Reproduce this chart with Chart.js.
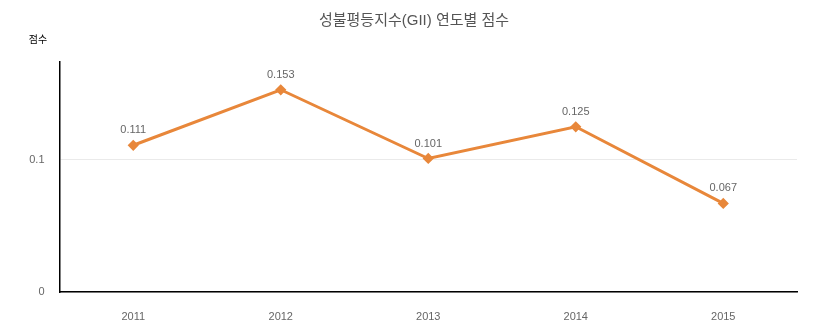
<!DOCTYPE html>
<html>
<head>
<meta charset="utf-8">
<script src="https://cdn.jsdelivr.net/npm/chart.js@4"></script>
<style>
  body { margin: 0; background: #fff; }
  #wrap { width: 820px; height: 328px; }
</style>
</head>
<body>
<div id="wrap"><canvas id="giiChart" width="820" height="328"></canvas></div>
<script>
const years = ['2011', '2012', '2013', '2014', '2015'];
const scores = [0.111, 0.153, 0.101, 0.125, 0.067];
const yTicks = [0, 0.1];

const chartTitle = '성불평등지수(GII) 연도별 점수';
const yLabel = '점수';
const fontFamily = "'Liberation Sans', 'Noto Sans CJK KR', sans-serif";

// title, unit label and point values
const textPlugin = {
    id: 'textPlugin',
    afterDatasetsDraw(chart) {
        const ctx = chart.ctx;
        ctx.save();
        ctx.textAlign = 'center';
        ctx.textBaseline = 'middle';
        ctx.fillStyle = '#555';
        ctx.font = '15px ' + fontFamily;
        ctx.fillText(chartTitle, 414, 21);
        ctx.fillStyle = '#000';
        ctx.font = '10px ' + fontFamily;
        ctx.fillText(yLabel, 38, 40);

        ctx.fillStyle = '#666';
        ctx.font = '11px ' + fontFamily;
        const meta = chart.getDatasetMeta(0);
        meta.data.forEach((pt, i) => {
            ctx.fillText(scores[i].toFixed(3), pt.x, pt.y - 15);
        });
        ctx.restore();
    }
};

const ctx = document.getElementById('giiChart').getContext('2d');
new Chart(ctx, {
    type: 'line',
    data: {
        labels: years,
        datasets: [{
            data: scores,
            borderColor: '#E8873A',
            backgroundColor: '#E8873A',
            borderWidth: 3,
            pointStyle: 'rectRot',
            pointRadius: 3.5,
            pointHoverRadius: 3.5,
            tension: 0
        }]
    },
    options: {
        responsive: false,
        animation: false,
        layout: { padding: { top: 62, right: 23, left: 0, bottom: 0 } },
        plugins: {
            legend: { display: false },
            title: { display: false },
            tooltip: { enabled: false }
        },
        scales: {
            x: {
                offset: true,
                grid: { display: false, drawTicks: false },
                border: { color: '#000', width: 1.5 },
                ticks: { color: '#666', font: { size: 11, family: fontFamily }, padding: 18 },
                afterFit(scale) { scale.height = 36; }
            },
            y: {
                min: 0,
                max: 0.174,
                grid: { color: '#eaeaea', drawTicks: false },
                border: { color: '#000', width: 1.5 },
                ticks: { color: '#666', font: { size: 11, family: fontFamily }, padding: 15 },
                afterBuildTicks(scale) { scale.ticks = yTicks.map(v => ({ value: v })); },
                afterFit(scale) { scale.width = 59.5; }
            }
        }
    },
    plugins: [textPlugin]
});
</script>
</body>
</html>
